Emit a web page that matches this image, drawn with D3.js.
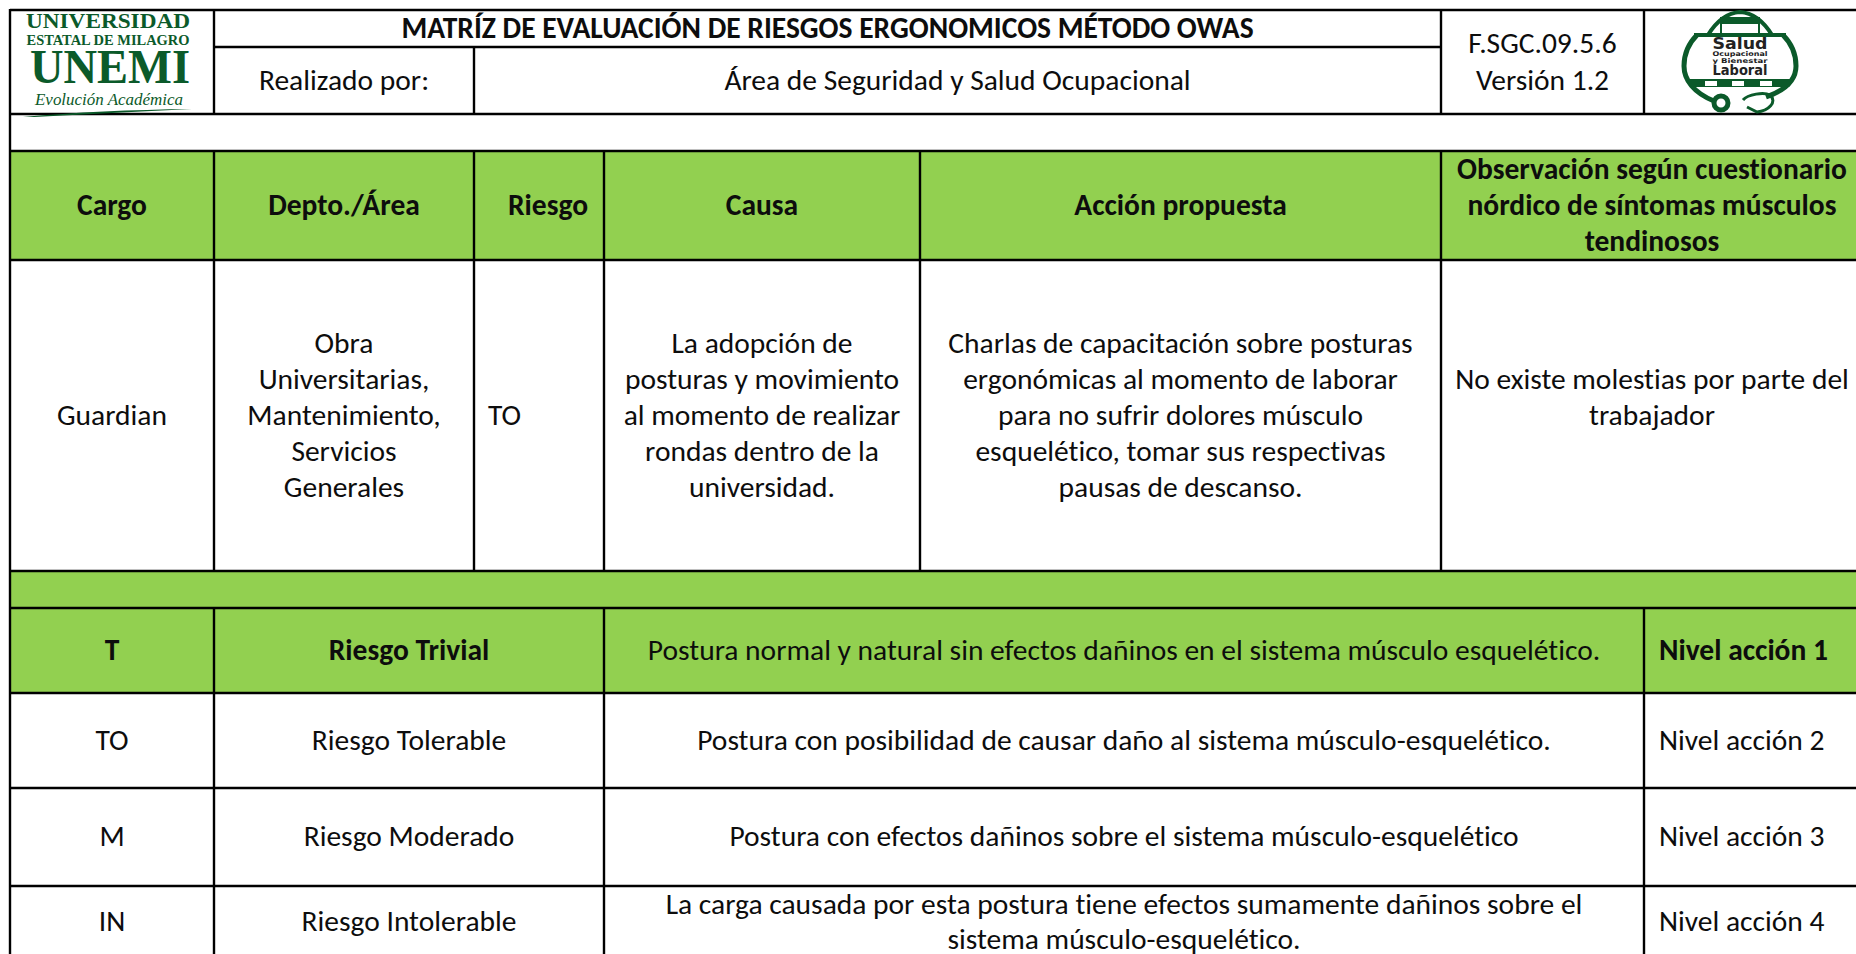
<!DOCTYPE html>
<html><head><meta charset="utf-8">
<script src="https://cdn.jsdelivr.net/npm/d3@7/dist/d3.min.js"></script>
<style>html,body{margin:0;padding:0;background:#fff;overflow:hidden}svg{display:block}text{font-variant-ligatures:none;font-feature-settings:"liga" 0,"clig" 0}</style>
</head><body><svg id="c" width="1856" height="954"></svg>
<script>
const columnKeys = ["a","b","c","d","e","f","g","end"];
const rowKeys = ["title","sub","gap","head","body","band","t","to","m","in","bottom"];
const titleText = "MATRÍZ DE EVALUACIÓN DE RIESGOS ERGONOMICOS MÉTODO OWAS";
const madeByLabel = "Realizado por:";
const madeByValue = "Área de Seguridad y Salud Ocupacional";
const docCode = ["F.SGC.09.5.6","Versión 1.2"];
const headers = ["Cargo","Depto./Área","Riesgo","Causa","Acción propuesta"];
const headerObs = ["Observación según cuestionario","nórdico de síntomas músculos","tendinosos"];
const cargo = ["Guardian"];
const area = ["Obra","Universitarias,","Mantenimiento,","Servicios","Generales"];
const riesgo = ["TO"];
const causa = ["La adopción de","posturas y movimiento","al momento de realizar","rondas dentro de la","universidad."];
const accion = ["Charlas de capacitación sobre posturas","ergonómicas al momento de laborar","para no sufrir dolores músculo","esquelético, tomar sus respectivas","pausas de descanso."];
const observacion = ["No existe molestias por parte del","trabajador"];
const levelCodes = ["T","TO","M","IN"];
const levelNames = ["Riesgo Trivial","Riesgo Tolerable","Riesgo Moderado","Riesgo Intolerable"];
const levelDesc = [
 ["Postura normal y natural sin efectos dañinos en el sistema músculo esquelético."],
 ["Postura con posibilidad de causar daño al sistema músculo-esquelético."],
 ["Postura con efectos dañinos sobre el sistema músculo-esquelético"],
 ["La carga causada por esta postura tiene efectos sumamente dañinos sobre el","sistema músculo-esquelético."]];
const levelActions = ["Nivel acción 1","Nivel acción 2","Nivel acción 3","Nivel acción 4"];

const X = d3.scaleOrdinal().domain(columnKeys).range([10,214,474,604,920,1441,1644,1863]);
const Y = d3.scaleOrdinal().domain(rowKeys).range([10,47,114,151,260,571,608,693,788,886,970]);
const GREEN="#92D050", INK="#0d0d0d", LOGO="#0b5a2a";
const FONT="Carlito, Lato, sans-serif", FS=29.5, LH=36;
const svg=d3.select("#c");
const rect=(x0,x1,y0,y1,f)=>svg.append("rect").attr("x",X(x0)).attr("width",X(x1)-X(x0)).attr("y",Y(y0)).attr("height",Y(y1)-Y(y0)).attr("fill",f);
rect("a","end","head","body",GREEN);
rect("a","end","band","to",GREEN);

const SW=2.4;
const hl=(x0,x1,y)=>svg.append("line").attr("x1",X(x0)).attr("x2",X(x1)).attr("y1",Y(y)).attr("y2",Y(y)).attr("stroke","#000").attr("stroke-width",SW);
const vl=(x,y0,y1)=>svg.append("line").attr("x1",X(x)).attr("x2",X(x)).attr("y1",Y(y0)-1).attr("y2",Y(y1)+1).attr("stroke","#000").attr("stroke-width",SW);
rowKeys.filter(r=>r!=="sub"&&r!=="bottom").forEach(r=>hl("a","end",r));
hl("b","f","sub");
vl("a","title","bottom");
vl("b","title","gap");vl("c","sub","gap");vl("f","title","gap");vl("g","title","gap");
["b","c","d","e","f"].forEach(k=>vl(k,"head","band"));
vl("b","t","bottom");vl("d","t","bottom");vl("g","t","bottom");

function put(lines,cx,y0,y1,opt={}){
  const cy=(Y(y0)+Y(y1))/2+(opt.dy||0)-1;
  const g=svg.append("g");
  lines.forEach((s,i)=>{
    const y=cy+(i-(lines.length-1)/2)*(opt.lh||LH);
    g.append("text").text(s).attr("font-family",FONT).attr("font-size",FS).attr("fill",INK)
      .attr("font-weight",opt.bold?700:400).attr("dominant-baseline","central")
      .attr("text-anchor",opt.left?"start":"middle")
      .attr("x",cx).attr("y",y);
  });
}
const mid=(a,b)=>(X(a)+X(b))/2;
put([titleText],mid("b","f"),"title","sub",{bold:true});
put([madeByLabel],mid("b","c"),"sub","gap");
put([madeByValue],mid("c","f"),"sub","gap");
put(docCode,mid("f","g"),"title","gap",{lh:37});
put([headers[0]],mid("a","b"),"head","body",{bold:true});
put([headers[1]],mid("b","c"),"head","body",{bold:true});
put([headers[2]],mid("c","d")+9,"head","body",{bold:true});
put([headers[3]],mid("d","e"),"head","body",{bold:true});
put([headers[4]],mid("e","f"),"head","body",{bold:true});
put(headerObs,mid("f","end"),"head","body",{bold:true});
put(cargo,mid("a","b"),"body","band");
put(area,mid("b","c"),"body","band");
put(riesgo,X("c")+14,"body","band",{left:true});
put(causa,mid("d","e"),"body","band");
put(accion,mid("e","f"),"body","band");
put(observacion,mid("f","end"),"body","band",{dy:-18});
const lr=["t","to","m","in","bottom"];
levelCodes.forEach((s,i)=>{
  const o={bold:i===0};
  const end=lr[i+1];
  const dy=i===3?-6:0;
  put([s],mid("a","b"),lr[i],end,{...o,dy});
  put([levelNames[i]],mid("b","d"),lr[i],end,{...o,dy});
  put(levelDesc[i],mid("d","g"),lr[i],end,{dy,lh:35});
  put([levelActions[i]],X("g")+15,lr[i],end,{...o,left:true,dy});
});

// UNEMI logo
const L=svg.append("g").attr("fill",LOGO).attr("font-family","Liberation Serif, serif").attr("font-weight",700).attr("text-anchor","middle");
const lg=(s,x,y,fs,w,extra={})=>{const t=L.append("text").text(s).attr("x",x).attr("y",y).attr("font-size",fs).attr("textLength",w).attr("lengthAdjust","spacingAndGlyphs");Object.entries(extra).forEach(([k,v])=>t.attr(k,v));return t;};
lg("UNIVERSIDAD",108,28,22,164);
lg("ESTATAL DE MILAGRO",108,44.5,14.5,163);
lg("UNEMI",110,83,49,160);
lg("Evolución Académica",109,105,17,148,{"font-style":"italic","font-weight":400});
L.append("path").attr("d","M23 117 Q100 110 192 109 Q110 113 34 117Z");

// Salud logo
const S=svg.append("g").attr("transform","translate(1740,66)");
S.append("path").attr("d","M-26 35 C-46 27 -56 14 -56 0 C-56 -12 -52 -22 -43 -31 M26 31 C46 24 56 13 56 0 C56 -12 52 -22 43 -31")
  .attr("fill","none").attr("stroke",LOGO).attr("stroke-width",5);
S.append("path").attr("d","M-32 -31 C-24 -44 -14 -53 0 -54 C14 -53 24 -44 32 -31 M-46 -31 L46 -31")
  .attr("fill","none").attr("stroke",LOGO).attr("stroke-width",4);
S.append("path").attr("d","M-19 -48 L-19 -32 M19 -48 L19 -32").attr("stroke",LOGO).attr("stroke-width",2);
S.append("rect").attr("x",-20).attr("y",-49).attr("width",40).attr("height",7).attr("fill",LOGO);
S.append("path").attr("d","M-54 13 L54 13 L49 21 L-49 21Z").attr("fill",LOGO);
[-35,-8,20].forEach(x=>S.append("rect").attr("x",x).attr("y",15).attr("width",12).attr("height",5).attr("fill","#fff"));
S.append("circle").attr("cx",-19).attr("cy",37).attr("r",7).attr("fill","#fff").attr("stroke",LOGO).attr("stroke-width",5);
S.append("path").attr("d","M3 34 C8 28 24 26 30 29 C38 36 28 45 17 46 L7 41").attr("fill","none").attr("stroke",LOGO).attr("stroke-width",3);
const st=(s,y,fs,w)=>S.append("text").text(s).attr("x",0).attr("y",y).attr("font-size",fs).attr("text-anchor","middle").attr("font-family","DejaVu Sans, sans-serif").attr("font-weight",700).attr("fill","#222").attr("textLength",w).attr("lengthAdjust","spacingAndGlyphs");
st("Salud",-17,16,55);st("Ocupacional",-10,6.5,55);st("y Bienestar",-3,6.5,55);st("Laboral",9,14,55);
</script></body></html>
